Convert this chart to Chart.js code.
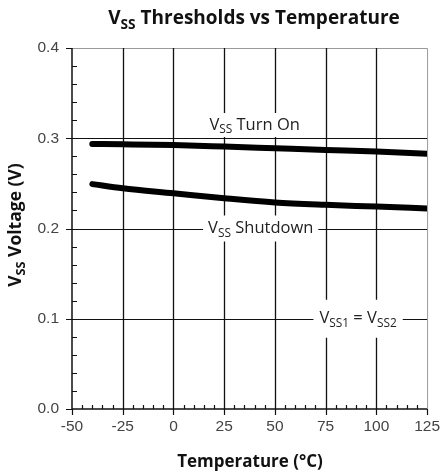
<!DOCTYPE html>
<html>
<head>
<meta charset="utf-8">
<script src="https://cdn.jsdelivr.net/npm/chart.js@4.4.1/dist/chart.umd.min.js"></script>
<style>
  html, body { margin: 0; padding: 0; background: #fff; }
  #wrap { width: 448px; height: 474px; }
</style>
</head>
<body>
<div id="wrap"><canvas id="chart" width="448" height="474"></canvas></div>
<script>
// ── data ────────────────────────────────────────────────────
const temps    = [-40, -25, 0, 25, 50, 75, 100, 125];
const turnOn   = [0.2936, 0.2933, 0.2925, 0.2908, 0.2889, 0.2870, 0.2852, 0.2828];
const shutdown = [0.2492, 0.2445, 0.2390, 0.2335, 0.2288, 0.2262, 0.2243, 0.2222];
const xTicks   = [-50, -25, 0, 25, 50, 75, 100, 125];
const yTicks   = [0.0, 0.1, 0.2, 0.3, 0.4];

const FONT_B = 'Open Sans, sans-serif';
const FONT_R = 'Liberation Sans, Arial, sans-serif';
const LABEL_SIZE = 16.5;

// text with subscript parts: [{t, sub}]
function richWidth(ctx, parts, size, weight) {
  let w = 0;
  parts.forEach(p => {
    ctx.font = `${weight} ${p.sub ? size * 0.72 : size}px ${FONT_B}`;
    w += ctx.measureText(p.t).width;
  });
  return w;
}
function drawRich(ctx, parts, cx, cy, size, weight, color) {
  const w = richWidth(ctx, parts, size, weight);
  let x = cx - w / 2;
  ctx.fillStyle = color;
  ctx.textAlign = 'left';
  ctx.textBaseline = 'middle';
  parts.forEach(p => {
    ctx.font = `${weight} ${p.sub ? size * 0.72 : size}px ${FONT_B}`;
    ctx.fillText(p.t, x, cy + (p.sub ? size * 0.3 : 0));
    x += ctx.measureText(p.t).width;
  });
  return w;
}

// curve labels, placed in data units
const labels = [
  { parts: [{ t: 'V' }, { t: 'SS', sub: true }, { t: ' Turn On' }], x: 40, y: 0.3147, padX: 5, padY: 12 },
  { parts: [{ t: 'V' }, { t: 'SS', sub: true }, { t: ' Shutdown' }], x: 43, y: 0.2, padX: 5, padY: 13 },
  { parts: [{ t: 'V' }, { t: 'SS1', sub: true }, { t: ' = V' }, { t: 'SS2', sub: true }], x: 91, y: 0.1, padX: 6, padY: 19 },
];

const framePlugin = {
  id: 'frame',
  beforeDatasetsDraw(chart) {
    const { ctx, chartArea: a, scales: { x, y } } = chart;
    ctx.save();
    // border top / right
    ctx.strokeStyle = '#9a9a9a';
    ctx.lineWidth = 1;
    ctx.beginPath();
    ctx.moveTo(a.left, a.top + 0.5); ctx.lineTo(a.right + 0.5, a.top + 0.5);
    ctx.lineTo(a.right + 0.5, a.bottom);
    ctx.stroke();

    // grid
    ctx.strokeStyle = '#111';
    ctx.lineWidth = 1.3;
    xTicks.slice(1, -1).forEach(v => {
      const px = Math.round(x.getPixelForValue(v)) + 0.5;
      ctx.beginPath(); ctx.moveTo(px, a.top); ctx.lineTo(px, a.bottom); ctx.stroke();
    });
    ctx.lineWidth = 1.1;
    yTicks.slice(1, -1).forEach(v => {
      const py = Math.round(y.getPixelForValue(v)) + 0.5;
      ctx.beginPath(); ctx.moveTo(a.left, py); ctx.lineTo(a.right, py); ctx.stroke();
    });

    // knock grid out behind labels
    labels.forEach(l => {
      const w = richWidth(ctx, l.parts, LABEL_SIZE, 400);
      const cx = x.getPixelForValue(l.x), cy = y.getPixelForValue(l.y);
      ctx.fillStyle = '#fff';
      ctx.fillRect(cx - w / 2 - l.padX, cy - l.padY, w + 2 * l.padX, 2 * l.padY);
      drawRich(ctx, l.parts, cx, cy, LABEL_SIZE, 400, '#222');
    });

    // axes + ticks
    ctx.strokeStyle = '#111';
    ctx.lineWidth = 1.5;
    ctx.beginPath();
    ctx.moveTo(a.left, a.top); ctx.lineTo(a.left, a.bottom); ctx.lineTo(a.right, a.bottom);
    ctx.stroke();
    ctx.lineWidth = 1.2;
    ctx.beginPath();
    for (let v = 0; v <= 0.4001; v += 0.02) {
      const py = Math.round(y.getPixelForValue(v)) + 0.5;
      const major = Math.abs(v * 10 - Math.round(v * 10)) < 1e-6;
      if (major) { ctx.moveTo(a.left - 6, py); ctx.lineTo(a.left, py); }
      else { ctx.moveTo(a.left, py); ctx.lineTo(a.left + 5, py); }
    }
    for (let v = -50; v <= 125; v += 5) {
      const px = Math.round(x.getPixelForValue(v)) + 0.5;
      if (v % 25 === 0) { ctx.moveTo(px, a.bottom); ctx.lineTo(px, a.bottom + 6); }
      else { ctx.moveTo(px, a.bottom); ctx.lineTo(px, a.bottom - 4); }
    }
    ctx.stroke();

    // titles
    drawRich(ctx, [{ t: 'V' }, { t: 'SS', sub: true }, { t: ' Thresholds vs Temperature' }], 254, 19, 19, 700, '#111');
    drawRich(ctx, [{ t: 'Temperature (°C)' }], 250, 462, 17, 700, '#111');
    ctx.translate(16, 225);
    ctx.rotate(-Math.PI / 2);
    drawRich(ctx, [{ t: 'V' }, { t: 'SS', sub: true }, { t: ' Voltage (V)' }], 0, 0, 17.5, 700, '#111');
    ctx.restore();
  }
};

new Chart(document.getElementById('chart').getContext('2d'), {
  type: 'line',
  data: {
    datasets: [
      { label: 'Turn On', data: temps.map((t, i) => ({ x: t, y: turnOn[i] })) },
      { label: 'Shutdown', data: temps.map((t, i) => ({ x: t, y: shutdown[i] })) },
    ].map(d => ({
      ...d,
      borderColor: '#000',
      borderWidth: 6,
      pointRadius: 0,
      cubicInterpolationMode: 'monotone',
      borderCapStyle: 'round',
      fill: false,
    }))
  },
  options: {
    responsive: false,
    animation: false,
    events: [],
    layout: { padding: { top: 48, right: 17, left: 0, bottom: 0 } },
    plugins: { legend: { display: false }, tooltip: { enabled: false }, title: { display: false } },
    scales: {
      x: {
        type: 'linear', min: -50, max: 125,
        afterFit: s => { s.height = 65; },
        afterBuildTicks: s => { s.ticks = xTicks.map(v => ({ value: v })); },
        grid: { display: false, drawTicks: false },
        border: { display: false },
        ticks: { padding: 8, color: '#444', font: { size: 15.5, family: FONT_R }, maxRotation: 0 }
      },
      y: {
        min: 0, max: 0.4,
        afterFit: s => { s.width = 72; },
        afterBuildTicks: s => { s.ticks = yTicks.map(v => ({ value: v })); },
        grid: { display: false, drawTicks: false },
        border: { display: false },
        ticks: { padding: 13, color: '#444', font: { size: 15.5, family: FONT_R }, callback: v => v.toFixed(1) }
      }
    }
  },
  plugins: [framePlugin]
});
</script>
</body>
</html>
